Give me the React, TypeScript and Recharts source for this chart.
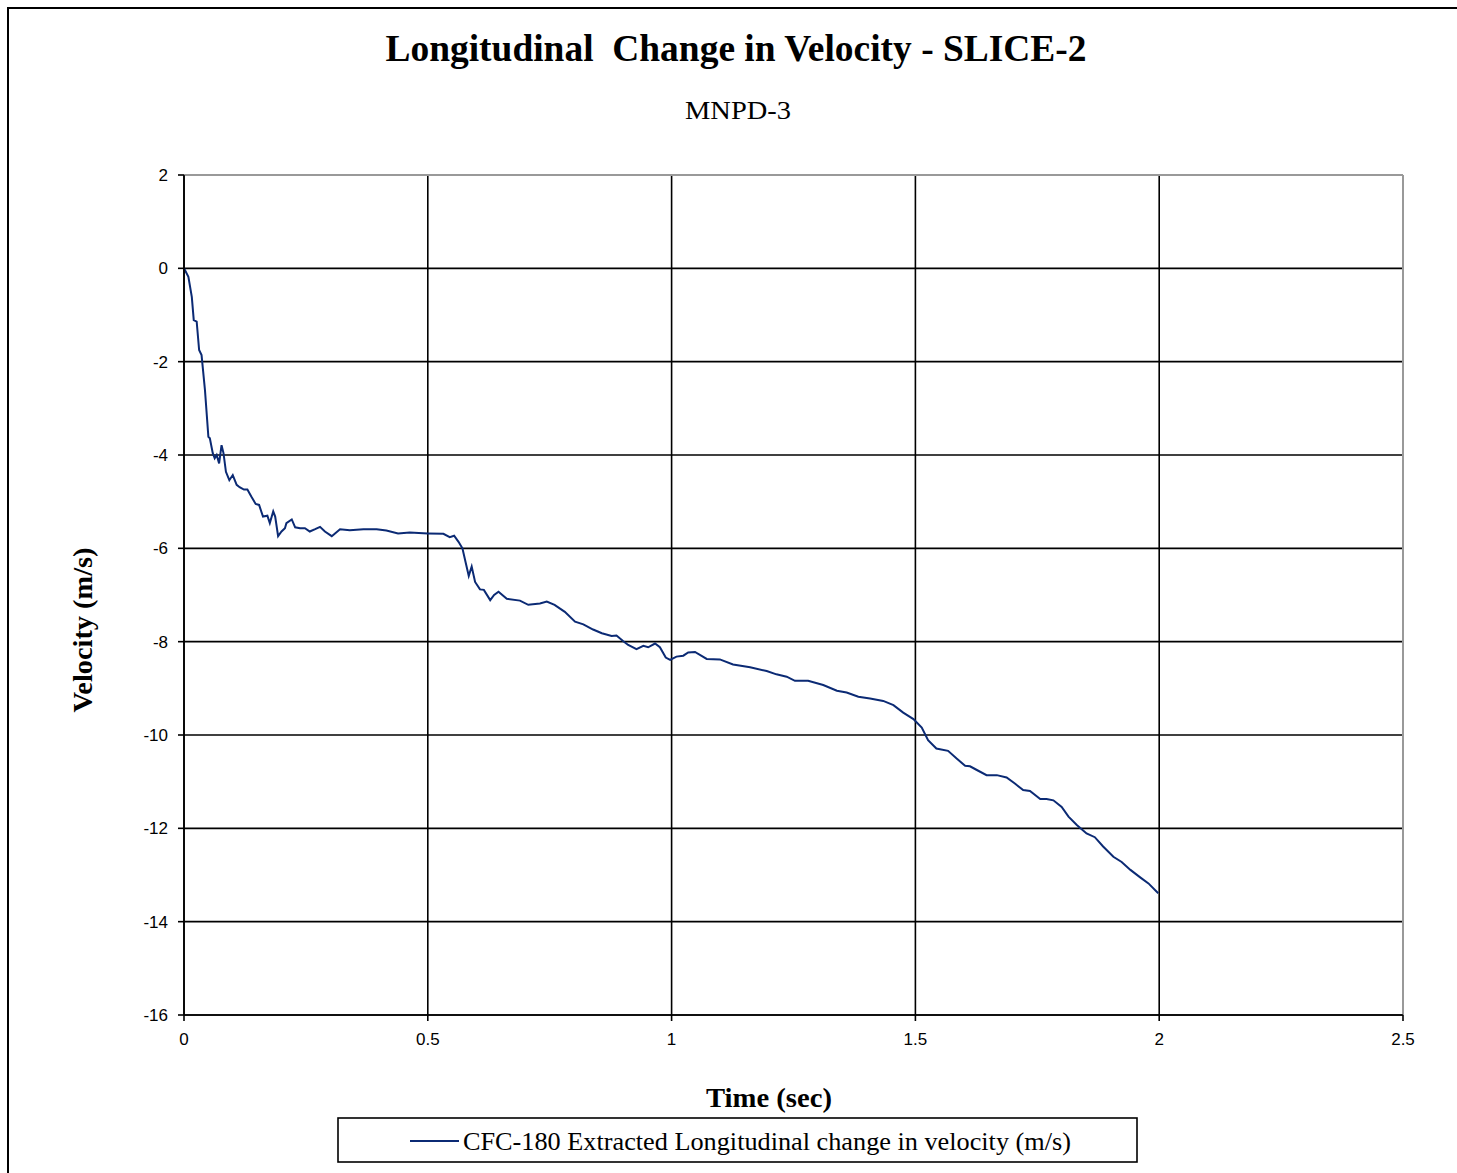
import React from "react";
import { LineChart, Line, XAxis, YAxis, CartesianGrid, ReferenceLine } from "recharts";

const timeSec: number[] = [
  0, 0.009, 0.016, 0.02, 0.026, 0.031, 0.036, 0.043, 0.05, 0.053, 0.059, 0.063, 0.067, 0.072, 0.077, 0.081,
  0.086, 0.093, 0.1, 0.108, 0.114, 0.123, 0.13, 0.138, 0.147, 0.154, 0.162, 0.171, 0.176, 0.183, 0.187,
  0.193, 0.2, 0.207, 0.21, 0.221, 0.228, 0.238, 0.248, 0.258, 0.269, 0.279, 0.289, 0.303, 0.32, 0.34,
  0.368, 0.395, 0.415, 0.439, 0.463, 0.5, 0.532, 0.545, 0.554, 0.563, 0.571, 0.578, 0.584, 0.59, 0.597,
  0.607, 0.615, 0.628, 0.636, 0.645, 0.662, 0.689, 0.706, 0.73, 0.744, 0.76, 0.781, 0.802, 0.819, 0.839,
  0.857, 0.877, 0.887, 0.901, 0.911, 0.928, 0.942, 0.952, 0.966, 0.976, 0.988, 0.997, 1.01, 1.024, 1.034,
  1.048, 1.072, 1.099, 1.126, 1.161, 1.195, 1.215, 1.236, 1.253, 1.28, 1.311, 1.339, 1.359, 1.383, 1.407,
  1.434, 1.455, 1.475, 1.496, 1.513, 1.526, 1.543, 1.567, 1.584, 1.602, 1.612, 1.626, 1.646, 1.667, 1.687,
  1.704, 1.721, 1.735, 1.756, 1.769, 1.783, 1.8, 1.814, 1.831, 1.851, 1.868, 1.885, 1.906, 1.923, 1.941,
  1.961, 1.978, 1.998,
];

const velocity: number[] = [
  0, -0.18, -0.61, -1.11, -1.14, -1.75, -1.86, -2.61, -3.61, -3.64, -3.96, -4.07, -4.0, -4.18, -3.79, -3.96,
  -4.36, -4.54, -4.43, -4.64, -4.69, -4.74, -4.74, -4.89, -5.05, -5.07, -5.32, -5.3, -5.46, -5.21, -5.32,
  -5.74, -5.64, -5.57, -5.46, -5.38, -5.55, -5.57, -5.57, -5.64, -5.59, -5.54, -5.64, -5.74, -5.59, -5.61,
  -5.59, -5.59, -5.62, -5.68, -5.66, -5.68, -5.69, -5.76, -5.73, -5.86, -6.0, -6.32, -6.59, -6.39, -6.72,
  -6.88, -6.89, -7.11, -7.0, -6.93, -7.08, -7.12, -7.21, -7.18, -7.14, -7.21, -7.36, -7.57, -7.63, -7.74,
  -7.82, -7.88, -7.87, -7.99, -8.07, -8.16, -8.09, -8.12, -8.04, -8.12, -8.34, -8.39, -8.32, -8.3, -8.23,
  -8.22, -8.37, -8.38, -8.49, -8.55, -8.63, -8.7, -8.75, -8.84, -8.84, -8.93, -9.05, -9.09, -9.18, -9.22,
  -9.27, -9.36, -9.52, -9.66, -9.84, -10.11, -10.29, -10.34, -10.5, -10.66, -10.67, -10.75, -10.86, -10.86, -10.91,
  -11.04, -11.18, -11.2, -11.37, -11.37, -11.4, -11.54, -11.75, -11.93, -12.11, -12.19, -12.39, -12.61, -12.72, -12.89,
  -13.05, -13.18, -13.39,
];

const xTicks: number[] = [0, 0.5, 1, 1.5, 2, 2.5];
const yTicks: number[] = [2, 0, -2, -4, -6, -8, -10, -12, -14, -16];

const titleText = "Longitudinal  Change in Velocity - SLICE-2";
const subtitleText = "MNPD-3";
const xLabel = "Time (sec)";
const yLabel = "Velocity (m/s)";
const seriesName = "CFC-180 Extracted Longitudinal change in velocity (m/s)";

const data = timeSec.map((t, i) => ({ t, v: velocity[i] }));

const serif = "'Liberation Serif', 'Times New Roman', serif";
const sans = "'Liberation Sans', Arial, sans-serif";
const lineColor = "#0b2a74";

export default function App() {
  return (
    <div style={{ position: "absolute", left: 0, top: 0, width: 1457, height: 1173, background: "#fff", overflow: "hidden" }}>
      <div style={{ position: "absolute", left: 7, top: 7, width: 1460, height: 1200, border: "2px solid #000", boxSizing: "border-box" }} />
      <div style={{ position: "absolute", left: 0, top: 0 }}>
        <LineChart width={1457} height={1173} data={data} margin={{ top: 175, right: 54, bottom: 118, left: 124 }}>
          <CartesianGrid stroke="#000" strokeWidth={1.6} />
          <XAxis
            dataKey="t"
            type="number"
            domain={[0, 2.5]}
            ticks={xTicks}
            height={40}
            stroke="#000"
            strokeWidth={1.6}
            tickSize={6}
            tickMargin={12}
            tick={{ fill: "#000", fontSize: 17, fontFamily: sans }}
            interval={0}
          />
          <YAxis
            type="number"
            domain={[-16, 2]}
            ticks={yTicks}
            width={60}
            stroke="#000"
            strokeWidth={1.6}
            tickSize={6}
            tickMargin={10}
            tick={{ fill: "#000", fontSize: 17, fontFamily: sans }}
            interval={0}
          />
          <ReferenceLine y={2} stroke="#999" strokeWidth={2} />
          <ReferenceLine x={2.5} stroke="#999" strokeWidth={2} />
          <Line
            type="linear"
            dataKey="v"
            stroke={lineColor}
            strokeWidth={2}
            dot={false}
            isAnimationActive={false}
          />
        </LineChart>
      </div>
      <svg width={1457} height={1173} style={{ position: "absolute", left: 0, top: 0, pointerEvents: "none" }}>
        <text x={736} y={61} textAnchor="middle" fontFamily={serif} fontWeight="bold" fontSize={37} textLength={701} lengthAdjust="spacingAndGlyphs" fill="#000" style={{ whiteSpace: "pre" }}>
          {titleText}
        </text>
        <text x={738} y={119} textAnchor="middle" fontFamily={serif} fontSize={25} textLength={106} lengthAdjust="spacingAndGlyphs" fill="#000">
          {subtitleText}
        </text>
        <text x={769} y={1107} textAnchor="middle" fontFamily={serif} fontWeight="bold" fontSize={27} textLength={126} lengthAdjust="spacingAndGlyphs" fill="#000">
          {xLabel}
        </text>
        <text
          x={0}
          y={0}
          transform="translate(92,630) rotate(-90)"
          textAnchor="middle"
          fontFamily={serif}
          fontWeight="bold"
          fontSize={27}
          textLength={165}
          lengthAdjust="spacingAndGlyphs"
          fill="#000"
        >
          {yLabel}
        </text>
        <rect x={338} y={1118} width={799} height={44} fill="#fff" stroke="#000" strokeWidth={1.6} />
        <line x1={410} y1={1141} x2={459} y2={1141} stroke={lineColor} strokeWidth={2} />
        <text x={463} y={1150} fontFamily={serif} fontSize={25} textLength={608} lengthAdjust="spacingAndGlyphs" fill="#000">
          {seriesName}
        </text>
      </svg>
    </div>
  );
}
